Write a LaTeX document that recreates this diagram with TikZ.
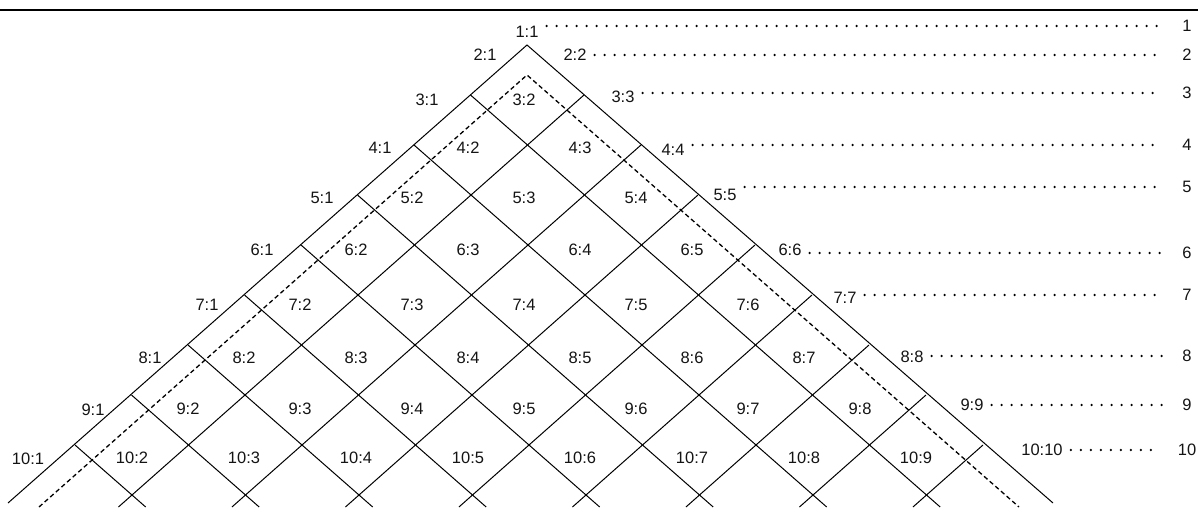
\documentclass[tikz,border=0pt]{standalone}
\usepackage{fontspec}
\setmainfont{Liberation Sans}
\usetikzlibrary{calc}
\definecolor{gridcolor}{RGB}{0,0,0}
\definecolor{labelcolor}{RGB}{20,20,20}

\begin{document}
\begin{tikzpicture}[x=1pt,y=-1pt,
  cell/.style={labelcolor,font=\fontsize{16.5}{18}\selectfont,inner sep=2pt},
  gridln/.style={gridcolor,line width=1pt},
  dashtri/.style={gridcolor,line width=1.3pt,dash pattern=on 4.5pt off 3pt},
  dotrow/.style={gridcolor,line width=2.6pt,line cap=round,
    dash pattern=on 0pt off 10pt,shorten <=6pt,shorten >=18pt}]
  \useasboundingbox (0,0) rectangle (1198,529);

  % --- lattice parameters (apex, steps down-left / down-right) ---
  \def\ax{527}
  \def\ay{45}
  \def\ux{-56.5}
  \def\vx{57}
  \def\hy{50}
  \def\ybot{507}

  % top rule
  \draw[gridcolor,line width=2pt] (0,10) -- (1198,10);

  % outer triangle
  \draw[gridln] (8,503) -- (\ax,\ay) -- (1053,503);

  % lines starting on the left edge, running down-right
  \foreach \i in {1,...,8}{
    \pgfmathsetmacro{\sx}{\ax+\i*\ux}
    \pgfmathsetmacro{\sy}{\ay+\i*\hy}
    \pgfmathsetmacro{\tlen}{(\ybot-\sy)/\hy}
    \draw[gridln] (\sx,\sy) -- ++({\tlen*\vx},{\tlen*\hy});
  }
  % lines starting on the right edge, running down-left
  \foreach \j in {1,...,8}{
    \pgfmathsetmacro{\sx}{\ax+\j*\vx}
    \pgfmathsetmacro{\sy}{\ay+\j*\hy}
    \pgfmathsetmacro{\tlen}{(\ybot-\sy)/\hy}
    \draw[gridln] (\sx,\sy) -- ++({\tlen*\ux},{\tlen*\hy});
  }

  % inner dashed triangle
  \draw[dashtri] (39,507) -- (\ax,75) -- (1019,507);

  % --- interior cells k:j ---
  \foreach \k/\y in {3/100,4/148,5/198,6/250,7/305,8/358,9/409,10/458}{
    \pgfmathtruncatemacro{\km}{\k-1}
    \foreach \j in {2,...,\km}{
      \pgfmathsetmacro{\cx}{524+(\j-(\k+1)/2)*112}
      \node[cell] (c\k-\j) at (\cx,\y) {\k:\j};
    }
  }

  % left edge labels k:1
  \foreach \k/\x/\y in {2/485/55,3/427/100,4/380/148,5/322/198,6/262/250,
      7/207/305,8/150/358,9/93/410,10/28/459}
    \node[cell] (l\k) at (\x,\y) {\k:1};

  % right edge labels k:k
  \node[cell] (r1) at (527,32) {1:1};
  \foreach \k/\x/\y in {2/575/55,3/623/97,4/673/150,5/725/195,6/790/250,
      7/845/298,8/912/357,9/972/405,10/1042/450}
    \node[cell] (r\k) at (\x,\y) {\k:\k};

  % row numbers and dotted leaders
  \foreach \k/\y in {1/26,2/55,3/93,4/145,5/187,6/253,7/295,8/356,9/405,10/450}
    \node[cell] (n\k) at (1187,\y) {\k};
  \foreach \k in {1,...,10}
    \draw[dotrow] (r\k.east |- n\k) -- (n\k.west);

\end{tikzpicture}
\end{document}
